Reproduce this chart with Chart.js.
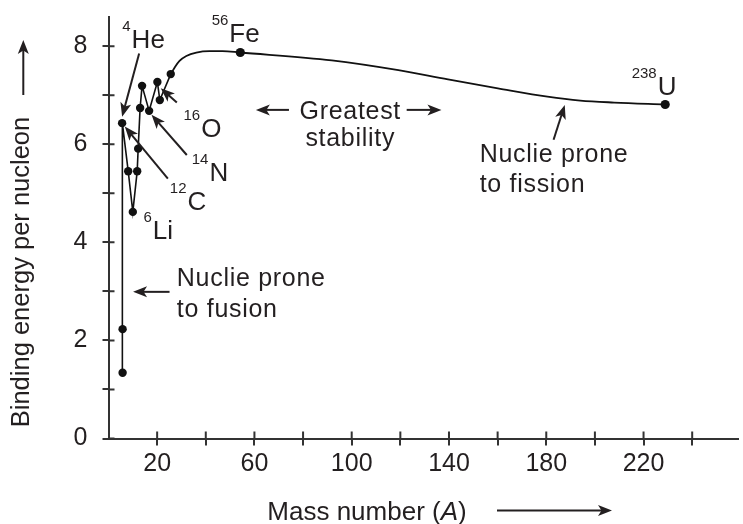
<!DOCTYPE html>
<html lang="en">
<head>
    <meta charset="UTF-8">
    <title>Binding energy per nucleon</title>
    <script src="https://cdn.jsdelivr.net/npm/chart.js"></script>
    <style>
        html, body { margin: 0; padding: 0; background: #fff; }
    </style>
</head>
<body>
    <canvas id="myChart" width="743" height="524"></canvas>

    <script>
        // light nuclei, the zig-zag part (mass number, binding energy per nucleon)
        const lightA  = [5.8, 5.8, 5.6, 8.1, 10.0, 11.8, 12.2, 13.0, 13.8, 16.7, 20.1, 21.1, 25.6];
        const lightBE = [1.34, 2.23, 6.43, 5.45, 4.62, 5.45, 5.91, 6.74, 7.19, 6.68, 7.27, 6.90, 7.43];

        // smooth part of the curve, up to uranium
        const curveA    = [25.6, 27.4, 29.2, 32.0, 36.1, 41.5, 46.9, 54.2, 91.8, 119.2, 139.6, 160.1, 180.5, 194.0, 207.9, 228.9];
        const curveBE   = [7.43, 7.58, 7.70, 7.80, 7.87, 7.90, 7.90, 7.87, 7.71, 7.51, 7.32, 7.14, 6.97, 6.89, 6.85, 6.81];
        const curveName = ['', '', '', '', '', '', '', 'Fe', '', '', '', '', '', '', '', 'U'];

        // ticks
        const xTicks  = [20, 40, 60, 80, 100, 120, 140, 160, 180, 200, 220, 240];
        const xLabels = ['20', '', '60', '', '100', '', '140', '', '180', '', '220', ''];
        const yTicks  = [0, 1, 2, 3, 4, 5, 6, 7, 8];
        const yLabels = ['0', '', '2', '', '4', '', '6', '', '8'];

        const FONT = '"Liberation Sans", Arial, Helvetica, sans-serif';
        const INK = '#231f20';
        const AXIS = '#333';

        // nuclide labels (anchored in data units: left of symbol, baseline)
        const nuclides = [
            {sup: '4',   sym: 'He', a: 9.5,   be: 7.96},
            {sup: '56',  sym: 'Fe', a: 49.7,  be: 8.08},
            {sup: '16',  sym: 'O',  a: 38.1,  be: 6.15},
            {sup: '14',  sym: 'N',  a: 41.5,  be: 5.24},
            {sup: '12',  sym: 'C',  a: 32.5,  be: 4.66},
            {sup: '6',   sym: 'Li', a: 18.2,  be: 4.07},
            {sup: '238', sym: 'U',  a: 225.8, be: 7.00},
        ];

        // pointer arrows: from (a,be) to tip (a,be)
        const pointers = [
            [12.6, 7.85, 5.6, 6.56],
            [28.1, 6.85, 21.5, 7.14],
            [32.2, 5.78, 17.7, 6.60],
            [24.4, 5.30, 6.7, 6.36],
            [25.1, 2.99, 10.1, 2.99],
            [74.2, 6.70, 60.6, 6.70],
            [122.6, 6.70, 136.9, 6.70],
            [183.0, 6.09, 187.6, 6.80],
        ];

        const notes = [
            {lines: ['Nuclie prone', 'to fusion'],  a: 28.1,  be: [3.11, 2.48], align: 'left'},
            {lines: ['Greatest', 'stability'],      a: 99.4,  be: [6.51, 5.96], align: 'center'},
            {lines: ['Nuclie prone', 'to fission'], a: 152.6, be: [5.64, 5.03], align: 'left'},
        ];

        function arrow(ctx, x1, y1, x2, y2) {
            const ang = Math.atan2(y2 - y1, x2 - x1);
            const len = 14, w = 5.5;
            const c = Math.cos(ang), s = Math.sin(ang);
            ctx.beginPath();
            ctx.moveTo(x1, y1);
            ctx.lineTo(x2 - c * len * 0.7, y2 - s * len * 0.7);
            ctx.stroke();
            ctx.beginPath();
            ctx.moveTo(x2, y2);
            ctx.lineTo(x2 - c * len + s * w, y2 - s * len - c * w);
            ctx.lineTo(x2 - c * len * 0.75, y2 - s * len * 0.75);
            ctx.lineTo(x2 - c * len - s * w, y2 - s * len + c * w);
            ctx.closePath();
            ctx.fill();
        }

        const annotate = {
            id: 'annotate',
            afterDraw(chart) {
                const {ctx, chartArea} = chart;
                const sx = chart.scales.x, sy = chart.scales.y;
                const px = v => sx.getPixelForValue(v);
                const py = v => sy.getPixelForValue(v);

                ctx.save();
                // inner half of the crossing tick marks
                ctx.strokeStyle = AXIS;
                ctx.lineWidth = 2;
                ctx.beginPath();
                xTicks.forEach(v => {
                    ctx.moveTo(px(v), chartArea.bottom);
                    ctx.lineTo(px(v), chartArea.bottom - 7);
                });
                yTicks.forEach(v => {
                    ctx.moveTo(chartArea.left, py(v));
                    ctx.lineTo(chartArea.left + 6, py(v));
                });
                ctx.stroke();

                // arrows
                ctx.strokeStyle = INK;
                ctx.fillStyle = INK;
                ctx.lineWidth = 2;
                pointers.forEach(p => arrow(ctx, px(p[0]), py(p[1]), px(p[2]), py(p[3])));

                // nuclide labels
                ctx.textBaseline = 'alphabetic';
                nuclides.forEach(n => {
                    const x = px(n.a), y = py(n.be);
                    ctx.font = '26px ' + FONT;
                    ctx.textAlign = 'left';
                    ctx.fillText(n.sym, x, y);
                    ctx.font = '15px ' + FONT;
                    ctx.textAlign = 'right';
                    ctx.fillText(n.sup, x - 1, y - 17);
                });

                // text notes
                ctx.font = '25px ' + FONT;
                ctx.letterSpacing = '0.7px';
                notes.forEach(n => {
                    ctx.textAlign = n.align;
                    n.lines.forEach((t, i) => ctx.fillText(t, px(n.a), py(n.be[i])));
                });
                ctx.letterSpacing = '0px';

                // y axis title with arrow
                ctx.save();
                ctx.translate(29, 272);
                ctx.rotate(-Math.PI / 2);
                ctx.font = '25.5px ' + FONT;
                ctx.textAlign = 'center';
                ctx.fillText('Binding energy per nucleon', 0, 0);
                ctx.restore();
                arrow(ctx, 23.3, 95, 23.3, 40);

                // x axis title with arrow
                ctx.textAlign = 'left';
                let tx = 267.3;
                const ty = 520;
                ctx.font = '26px ' + FONT;
                ctx.fillText('Mass number (', tx, ty);
                tx += ctx.measureText('Mass number (').width;
                ctx.font = 'italic 26px ' + FONT;
                ctx.fillText('A', tx, ty);
                tx += ctx.measureText('A').width;
                ctx.font = '26px ' + FONT;
                ctx.fillText(')', tx, ty);
                arrow(ctx, 497, 510.5, 612, 510.5);

                ctx.restore();
            }
        };

        const light = lightA.map((a, i) => ({x: a, y: lightBE[i]}));
        const curve = curveA.map((a, i) => ({x: a, y: curveBE[i]}));

        const ctx = document.querySelector('#myChart').getContext('2d');
        const myChart = new Chart(ctx, {
            type: 'scatter',
            data: {
                datasets: [
                    {
                        label: 'light nuclei',
                        data: light,
                        showLine: true,
                        tension: 0,
                        borderColor: '#111',
                        borderWidth: 1.6,
                        pointRadius: 4.2,
                        pointBackgroundColor: '#111',
                        pointBorderColor: '#111',
                        pointBorderWidth: 0,
                    },
                    {
                        label: 'curve',
                        data: curve,
                        showLine: true,
                        cubicInterpolationMode: 'monotone',
                        borderColor: '#111',
                        borderWidth: 1.8,
                        pointRadius: c => curveName[c.dataIndex] ? 4.6 : 0,
                        pointBackgroundColor: '#111',
                        pointBorderColor: '#111',
                        pointBorderWidth: 0,
                    },
                ]
            },
            options: {
                responsive: false,
                animation: false,
                layout: { padding: { top: 16.7, right: 1, left: 0, bottom: 0 } },
                plugins: {
                    legend: { display: false },
                    tooltip: { enabled: false },
                },
                scales: {
                    x: {
                        type: 'linear',
                        min: 0,
                        max: 259,
                        afterBuildTicks: s => { s.ticks = xTicks.map(v => ({value: v})); },
                        afterFit: s => { s.height = 85.5; s.paddingLeft = 0; s.paddingRight = 0; },
                        border: { color: AXIS, width: 2 },
                        grid: { drawOnChartArea: false, drawTicks: true, tickLength: 7, color: AXIS, lineWidth: 2 },
                        ticks: {
                            autoSkip: false,
                            maxRotation: 0,
                            padding: 4,
                            color: INK,
                            font: { family: FONT, size: 25 },
                            callback: (v, i) => xLabels[i],
                        },
                    },
                    y: {
                        min: 0,
                        max: 8.6,
                        afterBuildTicks: s => { s.ticks = yTicks.map(v => ({value: v})); },
                        afterFit: s => { s.width = 108.5; s.paddingTop = 0; s.paddingBottom = 0; },
                        border: { color: AXIS, width: 2 },
                        grid: { drawOnChartArea: false, drawTicks: true, tickLength: 6, color: AXIS, lineWidth: 2 },
                        ticks: {
                            autoSkip: false,
                            padding: 15,
                            color: INK,
                            font: { family: FONT, size: 25 },
                            callback: (v, i) => yLabels[i],
                        },
                    },
                },
            },
            plugins: [annotate],
        });
    </script>
</body>
</html>
